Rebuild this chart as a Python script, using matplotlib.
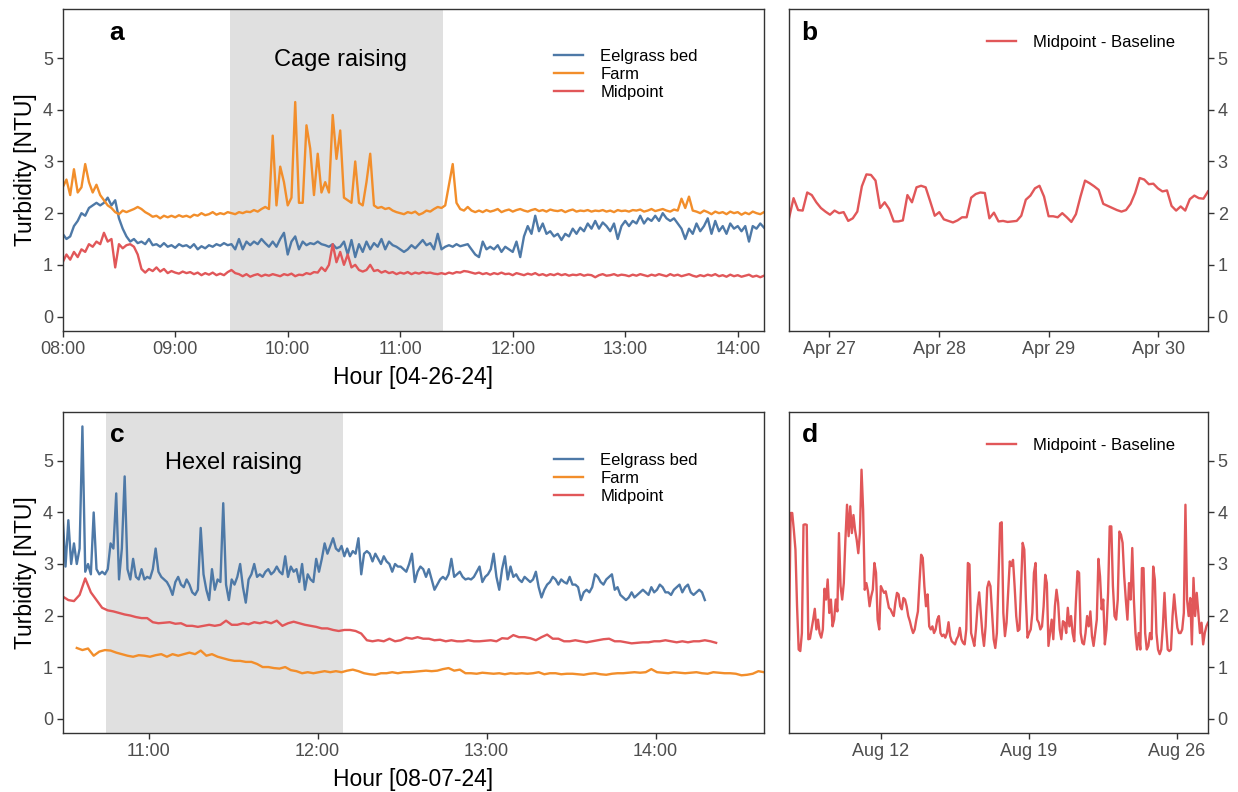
import pandas as pd
import matplotlib
matplotlib.use("Agg")
import matplotlib.pyplot as plt
import matplotlib.dates as mdates

plt.rcParams['font.family'] = ['Liberation Sans', 'DejaVu Sans']

c_blue = "#4E79A7"
c_orange = "#F28E2B"
c_red = "#E15759"
shade = "#E0E0E0"

# ---- panel a: 04-26-24, readings every 2 min from 08:00 ----
a_eelgrass = [
    1.6, 1.5, 1.55, 1.75, 1.85, 2.0, 1.95, 2.1, 2.15, 2.2,
    2.15, 2.2, 2.3, 2.15, 2.25, 1.9, 1.7, 1.55, 1.45, 1.5,
    1.42, 1.45, 1.4, 1.5, 1.38, 1.4, 1.35, 1.42, 1.35, 1.38,
    1.33, 1.4, 1.36, 1.38, 1.33, 1.4, 1.3, 1.36, 1.32, 1.38,
    1.35, 1.4, 1.37, 1.42, 1.38, 1.4, 1.3, 1.5, 1.3, 1.45,
    1.38, 1.45, 1.4, 1.5, 1.42, 1.35, 1.45, 1.35, 1.5, 1.62,
    1.2, 1.45, 1.55, 1.3, 1.45, 1.38, 1.42, 1.4, 1.45, 1.4,
    1.38, 1.35, 1.4, 1.32, 1.35, 1.45, 1.2, 1.48, 1.15, 1.4,
    1.25, 1.45, 1.3, 1.42, 1.35, 1.5, 1.3, 1.45, 1.38, 1.35,
    1.3, 1.25, 1.3, 1.38, 1.32, 1.4, 1.48, 1.38, 1.42, 1.3,
    1.6, 1.3, 1.35, 1.38, 1.35, 1.4, 1.36, 1.38, 1.4, 1.3,
    1.2, 1.15, 1.45, 1.3, 1.35, 1.3, 1.38, 1.25, 1.35, 1.3,
    1.25, 1.45, 1.15, 1.55, 1.75, 1.6, 1.95, 1.65, 1.8, 1.6,
    1.65, 1.55, 1.6, 1.48, 1.6, 1.55, 1.7, 1.6, 1.72, 1.65,
    1.8, 1.7, 1.85, 1.7, 1.82, 1.75, 1.65, 1.8, 1.5, 1.75,
    1.85, 1.75, 1.85, 1.8, 1.95, 1.8, 1.9, 1.85, 1.95, 1.85,
    2.0, 1.9, 1.85, 1.9, 1.8, 1.7, 1.5, 1.7, 1.6, 1.8,
    1.65, 1.75, 1.9, 1.6, 1.85, 1.65, 1.75, 1.6, 1.8, 1.7,
    1.75, 1.65, 1.75, 1.45, 1.75, 1.7, 1.8, 1.72,
]
a_farm = [
    2.5, 2.65, 2.35, 2.85, 2.4, 2.5, 2.95, 2.6, 2.4, 2.55,
    2.35, 2.25, 2.15, 2.1, 2.02, 1.98, 2.05, 2.02, 2.05, 2.08,
    2.12, 2.08, 2.02, 1.98, 1.93, 1.95, 1.9, 1.95, 1.92, 1.95,
    1.92, 1.96, 1.93, 1.95, 1.92, 1.97, 1.95, 2.0, 1.96, 1.98,
    2.02, 1.97, 2.0, 1.98, 2.02, 2.0, 1.98, 2.02, 2.0, 2.03,
    2.02, 2.06, 2.03, 2.08, 2.12, 2.08, 3.5, 2.15, 2.9, 2.6,
    2.15, 2.3, 4.15, 2.2, 2.2, 3.7, 3.25, 2.35, 3.15, 2.4,
    2.6, 2.4, 3.9, 3.05, 3.6, 2.3, 2.25, 2.2, 3.0, 2.2,
    2.15, 2.6, 3.15, 2.15, 2.1, 2.12, 2.08, 2.1, 2.05, 2.02,
    2.0, 1.98, 2.02, 2.0, 2.03, 1.97, 2.0, 2.05, 2.03, 2.08,
    2.12, 2.1, 2.15, 2.55, 2.95, 2.2, 2.08, 2.05, 2.12, 2.05,
    2.02, 2.05, 2.02, 2.06, 2.03, 2.05, 2.08, 2.02, 2.05, 2.07,
    2.03, 2.06, 2.08, 2.05, 2.03, 2.06, 2.08, 2.04, 2.06, 2.03,
    2.07, 2.05, 2.04, 2.06, 2.02, 2.05, 2.07, 2.03, 2.05, 2.04,
    2.06, 2.03, 2.05, 2.04, 2.06, 2.03, 2.05, 2.02, 2.06, 2.04,
    2.05, 2.03, 2.06, 2.05, 2.07, 2.03, 2.05, 2.08, 2.04, 2.06,
    2.08, 2.05, 2.03, 2.07, 2.05, 2.28, 2.1, 2.32, 2.05, 2.03,
    2.0, 2.05, 2.02, 1.98, 2.03, 2.0, 2.02, 1.98, 2.03, 2.0,
    2.02, 1.97, 2.01, 1.98, 2.03, 2.0, 1.98, 2.02,
]
a_midpoint = [
    1.05, 1.2, 1.1, 1.25, 1.15, 1.3, 1.25, 1.4, 1.35, 1.45,
    1.4, 1.62, 1.45, 1.5, 0.95, 1.4, 1.32, 1.38, 1.4, 1.35,
    1.2, 0.92, 0.85, 0.92, 0.88, 0.95, 0.87, 0.92, 0.84, 0.88,
    0.85, 0.83, 0.87, 0.84, 0.86, 0.82, 0.85, 0.8, 0.84, 0.81,
    0.85, 0.8, 0.83, 0.8, 0.86, 0.9, 0.84, 0.82, 0.78, 0.82,
    0.77, 0.8, 0.82, 0.78, 0.81, 0.79, 0.82, 0.8, 0.78, 0.82,
    0.8, 0.83, 0.78, 0.81, 0.8, 0.84, 0.82, 0.86, 0.85, 0.95,
    0.88, 1.0, 1.4, 1.05, 1.25, 1.0, 1.2, 0.95, 1.0, 0.9,
    0.87, 0.9, 1.0, 0.88, 0.9, 0.85, 0.88, 0.84, 0.86, 0.82,
    0.85, 0.83, 0.86, 0.82, 0.85, 0.83, 0.86, 0.84, 0.85, 0.83,
    0.82, 0.84, 0.82, 0.85, 0.83, 0.86, 0.85, 0.88, 0.87, 0.85,
    0.83, 0.85, 0.82, 0.84, 0.81, 0.84, 0.82, 0.85, 0.82, 0.83,
    0.8, 0.84, 0.82, 0.8, 0.83, 0.81, 0.84, 0.8, 0.82, 0.79,
    0.82, 0.8, 0.83, 0.8, 0.82, 0.79, 0.81, 0.8, 0.82, 0.79,
    0.81, 0.8, 0.76, 0.8, 0.82, 0.79, 0.8, 0.82, 0.79, 0.81,
    0.8, 0.78, 0.81, 0.79, 0.82, 0.8, 0.78, 0.81, 0.79, 0.82,
    0.8, 0.78, 0.82, 0.79, 0.81, 0.78, 0.8, 0.82, 0.79, 0.77,
    0.8, 0.78, 0.81, 0.79, 0.82, 0.78, 0.8, 0.77, 0.81, 0.78,
    0.8, 0.77, 0.79, 0.81, 0.77, 0.79, 0.76, 0.79,
]
a_event = ("2024-04-26 09:29", "2024-04-26 11:23")

# ---- panel b: hourly midpoint - baseline, Apr 26-30 ----
b_midpoint = [
    1.90, 2.29, 2.06, 2.05, 2.40, 2.35, 2.21, 2.10, 2.03, 1.97,
    2.05, 2.00, 2.02, 1.85, 1.90, 2.03, 2.52, 2.75, 2.74, 2.63,
    2.10, 2.21, 2.08, 1.84, 1.84, 1.86, 2.35, 2.21, 2.50, 2.53,
    2.50, 2.23, 1.95, 2.02, 1.88, 1.85, 1.82, 1.86, 1.92, 1.92,
    2.30, 2.37, 2.40, 2.39, 1.90, 2.01, 1.84, 1.85, 1.83, 1.84,
    1.85, 1.95, 2.26, 2.34, 2.48, 2.53, 2.32, 1.94, 1.94, 1.92,
    2.00, 1.92, 1.83, 1.98, 2.32, 2.63, 2.58, 2.52, 2.45, 2.18,
    2.14, 2.10, 2.06, 2.03, 2.06, 2.18, 2.39, 2.68, 2.65, 2.56,
    2.57, 2.48, 2.42, 2.44, 2.14, 2.05, 2.13, 2.05, 2.27, 2.34,
    2.29, 2.28, 2.42,
]
b_span = ("2024-04-26 15:10", "2024-04-30 10:50")

# ---- panel c: 08-07-24 ----
c_eelgrass = [  # every minute from 10:29:30
    3.9, 2.95, 3.85, 3.0, 3.4, 3.0, 3.3, 5.67, 2.85, 3.0,
    2.8, 4.0, 2.9, 2.8, 2.85, 2.8, 2.9, 3.4, 3.3, 4.37,
    2.7, 3.3, 4.7, 2.9, 2.7, 3.1, 2.75, 2.7, 2.9, 2.7,
    2.75, 2.72, 2.9, 3.3, 2.85, 2.75, 2.7, 2.65, 2.55, 2.4,
    2.65, 2.75, 2.6, 2.55, 2.7, 2.6, 2.45, 2.4, 2.5, 3.7,
    2.8, 2.5, 2.3, 2.9, 2.5, 2.7, 2.65, 4.18, 2.6, 2.3,
    2.7, 2.6, 2.75, 3.0, 2.55, 2.25, 2.7, 2.8, 3.0, 2.75,
    2.8, 2.75, 2.85, 2.9, 2.8, 2.85, 2.95, 2.85, 2.8, 3.15,
    2.75, 2.95, 2.85, 2.9, 2.65, 3.0, 2.5, 2.8, 2.7, 2.65,
    3.1, 2.85, 3.1, 3.4, 3.2, 3.35, 3.5, 3.3, 3.25, 3.35,
    3.15, 3.3, 3.15, 3.25, 3.2, 3.5, 2.8, 3.2, 3.25, 3.2,
    3.05, 3.2, 3.1, 3.0, 3.15, 3.05, 3.0, 2.85, 3.0, 2.95,
    2.95, 2.9, 2.85, 3.0, 3.2, 2.65, 2.85, 2.95, 2.9, 2.75,
    2.9, 2.7, 2.5, 2.6, 2.7, 2.75, 2.7, 2.8, 3.1, 2.75,
    2.8, 2.85, 2.75, 2.7, 2.72, 2.7, 2.75, 2.85, 2.95, 2.65,
    2.75, 2.8, 2.9, 3.2, 2.75, 2.5, 2.9, 3.15, 2.7, 2.95,
    2.75, 2.8, 2.7, 2.65, 2.75, 2.7, 2.65, 2.7, 2.85, 2.55,
    2.35, 2.5, 2.6, 2.65, 2.75, 2.7, 2.6, 2.7, 2.65, 2.62,
    2.75, 2.6, 2.6, 2.55, 2.3, 2.45, 2.5, 2.45, 2.55, 2.8,
    2.75, 2.65, 2.6, 2.7, 2.75, 2.8, 2.5, 2.55, 2.4, 2.35,
    2.3, 2.35, 2.45, 2.35, 2.4, 2.45, 2.5, 2.45, 2.4, 2.55,
    2.45, 2.5, 2.6, 2.55, 2.45, 2.45, 2.4, 2.5, 2.55, 2.6,
    2.45, 2.55, 2.6, 2.45, 2.4, 2.45, 2.5, 2.45, 2.3,
]
c_farm = [  # every 2 min from 10:34:30
    1.37, 1.33, 1.36, 1.22, 1.3, 1.33, 1.32, 1.28, 1.25, 1.22,
    1.2, 1.23, 1.22, 1.2, 1.23, 1.25, 1.2, 1.25, 1.22, 1.25,
    1.28, 1.25, 1.32, 1.22, 1.25, 1.2, 1.17, 1.14, 1.12, 1.12,
    1.1, 1.1, 1.06, 1.0, 1.0, 0.98, 0.97, 1.0, 0.94, 0.92,
    0.88, 0.9, 0.88, 0.9, 0.92, 0.9, 0.92, 0.9, 0.93, 0.95,
    0.92, 0.88, 0.86, 0.85, 0.88, 0.88, 0.9, 0.88, 0.9, 0.9,
    0.91, 0.92, 0.93, 0.92, 0.93, 0.96, 0.98, 0.93, 0.95, 0.88,
    0.88, 0.87, 0.89, 0.88, 0.87, 0.88, 0.86, 0.88, 0.87, 0.88,
    0.87, 0.88, 0.9, 0.86, 0.88, 0.88, 0.86, 0.87, 0.87, 0.86,
    0.85, 0.87, 0.88, 0.86, 0.85, 0.87, 0.88, 0.88, 0.89, 0.9,
    0.89, 0.9, 0.96, 0.9, 0.89, 0.88, 0.9, 0.89, 0.88, 0.89,
    0.9, 0.88, 0.87, 0.9, 0.89, 0.88, 0.88, 0.87, 0.84, 0.85,
    0.87, 0.92, 0.9,
]
c_midpoint = [  # every 2 min from 10:29:30
    2.37, 2.3, 2.28, 2.4, 2.72, 2.45, 2.3, 2.15, 2.1, 2.08,
    2.05, 2.02, 2.0, 1.97, 1.95, 1.95, 1.87, 1.85, 1.86, 1.87,
    1.84, 1.85, 1.8, 1.8, 1.78, 1.8, 1.82, 1.8, 1.82, 1.9,
    1.82, 1.82, 1.85, 1.83, 1.87, 1.85, 1.88, 1.85, 1.9, 1.8,
    1.85, 1.88, 1.85, 1.82, 1.8, 1.78, 1.75, 1.75, 1.72, 1.7,
    1.72, 1.72, 1.7, 1.65, 1.52, 1.5, 1.52, 1.5, 1.55, 1.5,
    1.52, 1.57, 1.55, 1.58, 1.55, 1.55, 1.52, 1.53, 1.5, 1.52,
    1.5, 1.5, 1.52, 1.5, 1.5, 1.51, 1.52, 1.5, 1.56, 1.55,
    1.62, 1.58, 1.58, 1.56, 1.52, 1.58, 1.63, 1.55, 1.55, 1.5,
    1.5, 1.52, 1.5, 1.48, 1.5, 1.52, 1.54, 1.55, 1.5, 1.5,
    1.48, 1.46, 1.47, 1.48, 1.48, 1.5, 1.5, 1.52, 1.5, 1.48,
    1.5, 1.48, 1.5, 1.5, 1.52, 1.5, 1.47,
]
c_event = ("2024-08-07 10:45", "2024-08-07 12:09")

# ---- panel d: midpoint - baseline, Aug 7-27 ----
d_midpoint = [
    1.54, 3.99, 3.99, 3.66, 3.28, 2.18, 1.34, 1.31, 1.66, 3.76,
    3.77, 3.76, 1.54, 1.55, 1.73, 1.92, 2.13, 1.73, 1.92, 1.66,
    1.57, 1.73, 2.52, 2.31, 2.70, 2.05, 2.31, 1.79, 1.92, 2.31,
    2.08, 3.60, 2.57, 2.31, 2.63, 3.47, 4.15, 3.54, 4.12, 3.60,
    3.95, 3.66, 3.47, 3.21, 3.60, 4.83, 4.05, 2.50, 2.63, 2.47,
    2.18, 2.37, 2.50, 3.02, 2.83, 1.92, 1.73, 2.57, 2.50, 2.44,
    2.47, 2.31, 2.15, 2.12, 2.05, 1.99, 2.25, 2.44, 2.41, 2.18,
    2.12, 2.34, 2.31, 2.18, 1.99, 1.89, 1.76, 1.66, 1.73, 1.92,
    2.08, 2.66, 3.18, 3.12, 2.57, 2.18, 2.41, 1.79, 1.73, 1.79,
    1.66, 1.73, 1.92, 1.99, 1.66, 1.60, 1.63, 1.57, 1.66, 1.87,
    1.60, 1.50, 1.47, 1.44, 1.54, 1.60, 1.76, 1.54, 1.47, 1.44,
    1.73, 3.02, 2.99, 1.66, 1.54, 1.41, 1.73, 2.18, 2.45, 2.05,
    1.66, 1.41, 1.79, 2.54, 2.66, 2.57, 2.05, 1.54, 1.37, 1.66,
    2.70, 3.79, 3.81, 2.05, 1.60, 1.86, 2.44, 3.05, 2.96, 3.08,
    2.57, 1.99, 1.70, 1.73, 2.57, 3.41, 3.28, 2.31, 1.57, 1.66,
    1.73, 2.05, 2.83, 3.02, 1.92, 1.86, 1.73, 1.79, 2.18, 2.79,
    2.63, 1.41, 1.66, 1.92, 1.54, 2.18, 2.50, 2.25, 1.73, 1.54,
    1.89, 1.86, 1.66, 2.15, 1.79, 1.99, 1.66, 1.50, 2.25, 2.86,
    2.83, 1.66, 1.47, 1.44, 1.66, 1.99, 1.79, 2.08, 1.60, 1.41,
    1.66, 1.92, 3.10, 2.76, 2.12, 2.31, 1.44, 1.73, 2.44, 3.73,
    3.73, 2.57, 1.99, 1.92, 2.31, 3.63, 3.57, 3.41, 2.76, 2.31,
    1.92, 2.63, 2.31, 3.31, 2.31, 1.66, 1.34, 1.66, 1.34, 2.92,
    2.92, 1.66, 1.34, 1.41, 1.66, 1.54, 2.95, 2.70, 1.66, 1.34,
    1.25, 1.34, 1.79, 2.44, 1.79, 1.34, 1.31, 1.34, 1.99, 2.41,
    2.05, 1.76, 1.66, 1.66, 1.73, 2.05, 4.15, 2.31, 1.99, 2.34,
    1.44, 2.73, 1.99, 2.44, 2.05, 1.66, 1.86, 1.44, 1.66, 1.79,
    1.86,
]
d_span = ("2024-08-07 15:50", "2024-08-27 11:30")

a_t = pd.date_range("2024-04-26 08:00", periods=len(a_farm), freq="2min")
b_t = pd.date_range(b_span[0], b_span[1], periods=len(b_midpoint))
c_t_blue = pd.date_range("2024-08-07 10:29:30", periods=len(c_eelgrass), freq="1min")
c_t_farm = pd.date_range("2024-08-07 10:34:30", periods=len(c_farm), freq="2min")
c_t_mid = pd.date_range("2024-08-07 10:29:30", periods=len(c_midpoint), freq="2min")
d_t = pd.date_range(d_span[0], d_span[1], periods=len(d_midpoint))

W, H = 1238, 792
fig = plt.figure(figsize=(W / 100, H / 100), dpi=100)


def box(l, t, r, b):
    return [l / W, 1 - b / H, (r - l) / W, (b - t) / H]


ax_a = fig.add_axes(box(62.7, 9, 764, 331))
ax_b = fig.add_axes(box(789, 9, 1208, 331))
ax_c = fig.add_axes(box(62.7, 412, 764, 733))
ax_d = fig.add_axes(box(789, 412, 1208, 733))

lw = 1.7
tick_fs = 13
title_fs = 16.5
leg_kw = dict(frameon=False, fontsize=12, handlelength=1.75, handletextpad=1.0,
              labelspacing=0.18, borderpad=0, borderaxespad=0)

for ax in (ax_a, ax_b, ax_c, ax_d):
    ax.set_ylim(-0.28, 5.95)
    ax.set_yticks(range(0, 6))
    for s in ax.spines.values():
        s.set_color("#333333")
        s.set_linewidth(1.0)
    ax.tick_params(colors="#333333", labelcolor="#4D4D4D", labelsize=tick_fs,
                   length=4, width=1, pad=3)

# panel a
ax_a.axvspan(pd.Timestamp(a_event[0]), pd.Timestamp(a_event[1]), color=shade, lw=0, zorder=0)
ax_a.plot(a_t, a_eelgrass, color=c_blue, lw=lw, label="Eelgrass bed")
ax_a.plot(a_t, a_farm, color=c_orange, lw=lw, label="Farm")
ax_a.plot(a_t, a_midpoint, color=c_red, lw=lw, label="Midpoint")
ax_a.set_xlim(a_t[0], a_t[-1])
ax_a.xaxis.set_major_locator(mdates.HourLocator())
ax_a.xaxis.set_major_formatter(mdates.DateFormatter("%H:%M"))
ax_a.set_xlabel("Hour [04-26-24]", fontsize=title_fs, labelpad=6)
ax_a.set_ylabel("Turbidity [NTU]", fontsize=title_fs, labelpad=4)
ax_a.text(pd.Timestamp("2024-04-26 10:28"), 4.85, "Cage raising", fontsize=17,
          ha="center", va="baseline")
ax_a.legend(loc="upper left", bbox_to_anchor=(0.701, 0.877), **leg_kw)

# panel b
ax_b.plot(b_t, b_midpoint, color=c_red, lw=lw, label="Midpoint - Baseline")
ax_b.set_xlim(b_t[0], b_t[-1])
ax_b.xaxis.set_major_locator(mdates.DayLocator())
ax_b.xaxis.set_major_formatter(mdates.DateFormatter("%b %d"))
ax_b.yaxis.tick_right()
ax_b.legend(loc="upper left", bbox_to_anchor=(0.472, 0.92), **leg_kw)

# panel c
ax_c.axvspan(pd.Timestamp(c_event[0]), pd.Timestamp(c_event[1]), color=shade, lw=0, zorder=0)
ax_c.plot(c_t_blue, c_eelgrass, color=c_blue, lw=lw, label="Eelgrass bed")
ax_c.plot(c_t_farm, c_farm, color=c_orange, lw=lw, label="Farm")
ax_c.plot(c_t_mid, c_midpoint, color=c_red, lw=lw, label="Midpoint")
ax_c.set_xlim(c_t_blue[0], c_t_farm[-1])
ax_c.xaxis.set_major_locator(mdates.HourLocator())
ax_c.xaxis.set_major_formatter(mdates.DateFormatter("%H:%M"))
ax_c.set_xlabel("Hour [08-07-24]", fontsize=title_fs, labelpad=6)
ax_c.set_ylabel("Turbidity [NTU]", fontsize=title_fs, labelpad=4)
ax_c.text(pd.Timestamp("2024-08-07 11:30"), 4.84, "Hexel raising", fontsize=17,
          ha="center", va="baseline")
ax_c.legend(loc="upper left", bbox_to_anchor=(0.701, 0.873), **leg_kw)

# panel d
ax_d.plot(d_t, d_midpoint, color=c_red, lw=lw, label="Midpoint - Baseline")
ax_d.set_xlim(d_t[0], d_t[-1])
ax_d.xaxis.set_major_locator(mdates.DayLocator(bymonthday=[12, 19, 26]))
ax_d.xaxis.set_major_formatter(mdates.DateFormatter("%b %d"))
ax_d.yaxis.tick_right()
ax_d.legend(loc="upper left", bbox_to_anchor=(0.472, 0.92), **leg_kw)

# panel tags
for ax, tag, x in ((ax_a, "a", 0.067), (ax_b, "b", 0.03), (ax_c, "c", 0.067), (ax_d, "d", 0.03)):
    ax.text(x, 0.905, tag, transform=ax.transAxes, fontsize=19, fontweight="bold",
            ha="left", va="baseline")

fig.savefig("out.png", dpi=100)
